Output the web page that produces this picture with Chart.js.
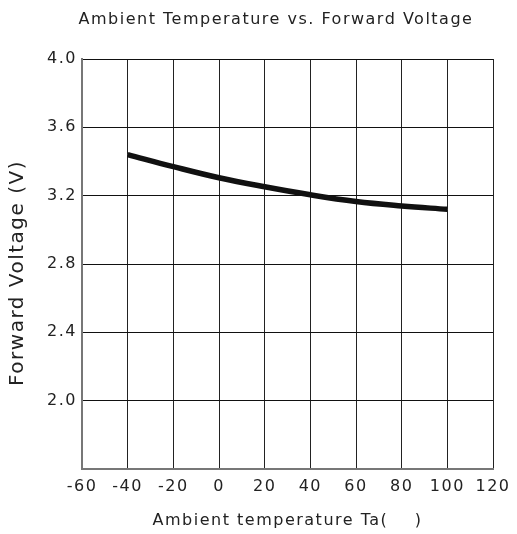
<!DOCTYPE html>
<html>
<head>
<meta charset="utf-8">
<script src="https://cdn.jsdelivr.net/npm/chart.js@4/dist/chart.umd.min.js"></script>
<style>
  html, body { margin: 0; padding: 0; background: #fff; }
  #wrap { width: 517px; height: 534px; }
</style>
</head>
<body>
<div id="wrap"><canvas id="c" width="517" height="534"></canvas></div>
<script>
const titleText = 'Ambient Temperature vs. Forward Voltage';
const xTitle = 'Ambient temperature Ta(    )';
const yTitle = 'Forward Voltage (V)';
const temperatures = [-40, -20, 0, 20, 40, 60, 80, 100];
const forwardVoltage = [3.44, 3.37, 3.305, 3.252, 3.205, 3.166, 3.14, 3.12];
const xMin = -60, xMax = 120, xStep = 20;
const yMin = 1.6, yMax = 4.0, yStep = 0.4;
const hiddenYTicks = [1.6];

const points = temperatures.map((t, i) => ({ x: t, y: forwardVoltage[i] }));
const FONT = "'DejaVu Sans', sans-serif";

const texts = {
  id: 'texts',
  beforeInit(chart) { chart.ctx.letterSpacing = '1.5px'; },
  beforeDraw(chart) { chart.ctx.letterSpacing = '1.5px'; },
  afterDraw(chart) {
    const ctx = chart.ctx;
    ctx.save();
    ctx.letterSpacing = '1.5px';
    ctx.fillStyle = '#222';
    ctx.textAlign = 'center';
    ctx.textBaseline = 'middle';
    ctx.font = "16px " + FONT;
    ctx.fillText(titleText, 276, 20);
    ctx.translate(18, 273);
    ctx.rotate(-Math.PI / 2);
    ctx.font = "20px " + FONT;
    ctx.fillText(yTitle, 0, 0);
    ctx.restore();
  }
};

new Chart(document.getElementById('c'), {
  type: 'scatter',
  data: {
    datasets: [
      { data: points, showLine: true, borderColor: '#111', borderWidth: 5.5, pointRadius: 0, tension: 0.4, fill: false },
      { data: points, showLine: true, borderColor: '#777', borderWidth: 1, pointRadius: 0, tension: 0.4, fill: false }
    ]
  },
  plugins: [texts],
  options: {
    responsive: false,
    animation: false,
    devicePixelRatio: 1,
    layout: { padding: { left: 0, right: 24, top: 59, bottom: 0 } },
    plugins: {
      legend: { display: false },
      tooltip: { enabled: false },
      title: { display: false }
    },
    scales: {
      x: {
        type: 'linear', min: xMin, max: xMax,
        afterFit(s) { s.height = 65; },
        ticks: { stepSize: xStep, color: '#222', padding: 8, maxRotation: 0, font: { family: FONT, size: 16 } },
        grid: { color: '#222', lineWidth: 1, drawTicks: false },
        border: { color: '#777', width: 2 },
        title: { display: true, text: xTitle, color: '#222', font: { family: FONT, size: 16 }, padding: { top: 0, bottom: 4 } }
      },
      y: {
        type: 'linear', min: yMin, max: yMax,
        afterFit(s) { s.width = 82; },
        ticks: {
          stepSize: yStep, color: '#222', padding: 5, font: { family: FONT, size: 16 },
          callback: (v) => hiddenYTicks.some(h => Math.abs(h - v) < 1e-6) ? '' : Number(v).toFixed(1)
        },
        grid: { color: '#111', lineWidth: 1, drawTicks: false },
        border: { color: '#777', width: 2 },
        title: { display: false }
      }
    }
  }
});
</script>
</body>
</html>
